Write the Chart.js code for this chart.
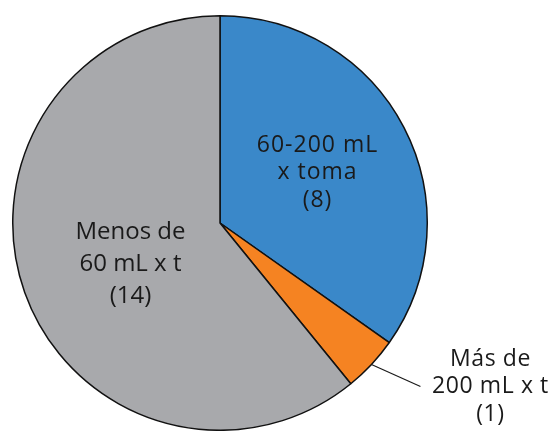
<!DOCTYPE html>
<html>
<head>
<meta charset="utf-8">
<script src="https://cdn.jsdelivr.net/npm/chart.js@4.4.1/dist/chart.umd.min.js"></script>
<style>
  html, body { margin: 0; padding: 0; background: #fff; }
  #wrap { width: 556px; height: 431px; }
</style>
</head>
<body>
<div id="wrap"><canvas id="myChart"></canvas></div>
<script>
// slice labels (one array per line), values and colours, clockwise from 12 o'clock
const categories = [
    ['60-200 mL', 'x toma', '(8)'],
    ['Más de', '200 mL x t', '(1)'],
    ['Menos de', '60 mL x t', '(14)']
];
const values = [8, 1, 14];
const colors = ['#3a88c9', '#f58322', '#a8a9ac'];
// slices whose label goes outside with a leader line
const outside = [false, true, false];

// label look per slice
const labelFont = [23, 23, 24];
const labelSpacing = ['1px', '0.6px', '0px'];
const labelLineH = [27.5, 27.5, 32];
const labelRadius = [0.53, 1.0, 0.475];
const labelTurn = [0, 0, -5]; // degrees

function drawLines(ctx, lines, x, y, lh){
    let top = y - (lines.length - 1) * lh / 2;
    for(let i = 0; i < lines.length; i++){
        ctx.fillText(lines[i], x, top + i * lh);
    }
}

const sliceLabels = {
    id: 'sliceLabels',
    afterDatasetsDraw(chart){
        const ctx = chart.ctx;
        const arcs = chart.getDatasetMeta(0).data;
        ctx.save();
        ctx.fillStyle = '#1a1a1a';
        ctx.textAlign = 'center';
        ctx.textBaseline = 'middle';
        arcs.forEach(function(arc, i){
            const p = arc.getProps(['x', 'y', 'startAngle', 'endAngle', 'outerRadius']);
            const mid = (p.startAngle + p.endAngle) / 2 + labelTurn[i] * Math.PI / 180;
            const cos = Math.cos(mid), sin = Math.sin(mid);
            ctx.font = labelFont[i] + 'px "Open Sans", "Noto Sans", sans-serif';
            ctx.letterSpacing = labelSpacing[i];
            const r = p.outerRadius * labelRadius[i];
            if(outside[i]){
                const x1 = p.x + cos * r;
                const y1 = p.y + sin * r;
                const x2 = x1 + 49;
                const y2 = y1 + 22;
                ctx.strokeStyle = '#1a1a1a';
                ctx.lineWidth = 1.2;
                ctx.beginPath();
                ctx.moveTo(x1, y1);
                ctx.lineTo(x2, y2);
                ctx.stroke();
                drawLines(ctx, categories[i], x2 + 70, y2, labelLineH[i]);
            }else{
                drawLines(ctx, categories[i], p.x + cos * r, p.y + sin * r, labelLineH[i]);
            }
        });
        ctx.restore();
    }
};

const myChart = new Chart(document.getElementById('myChart'), {
    type: 'pie',
    data: {
        labels: categories.map(function(c){ return c.join(' '); }),
        datasets: [{
            data: values,
            backgroundColor: colors,
            borderColor: '#111',
            borderWidth: 1.5
        }]
    },
    options: {
        responsive: true,
        maintainAspectRatio: false,
        animation: false,
        layout: { padding: { top: 15, bottom: 0, left: 12, right: 128 } },
        plugins: {
            legend: { display: false },
            tooltip: { enabled: false }
        }
    },
    plugins: [sliceLabels]
});
</script>
</body>
</html>
